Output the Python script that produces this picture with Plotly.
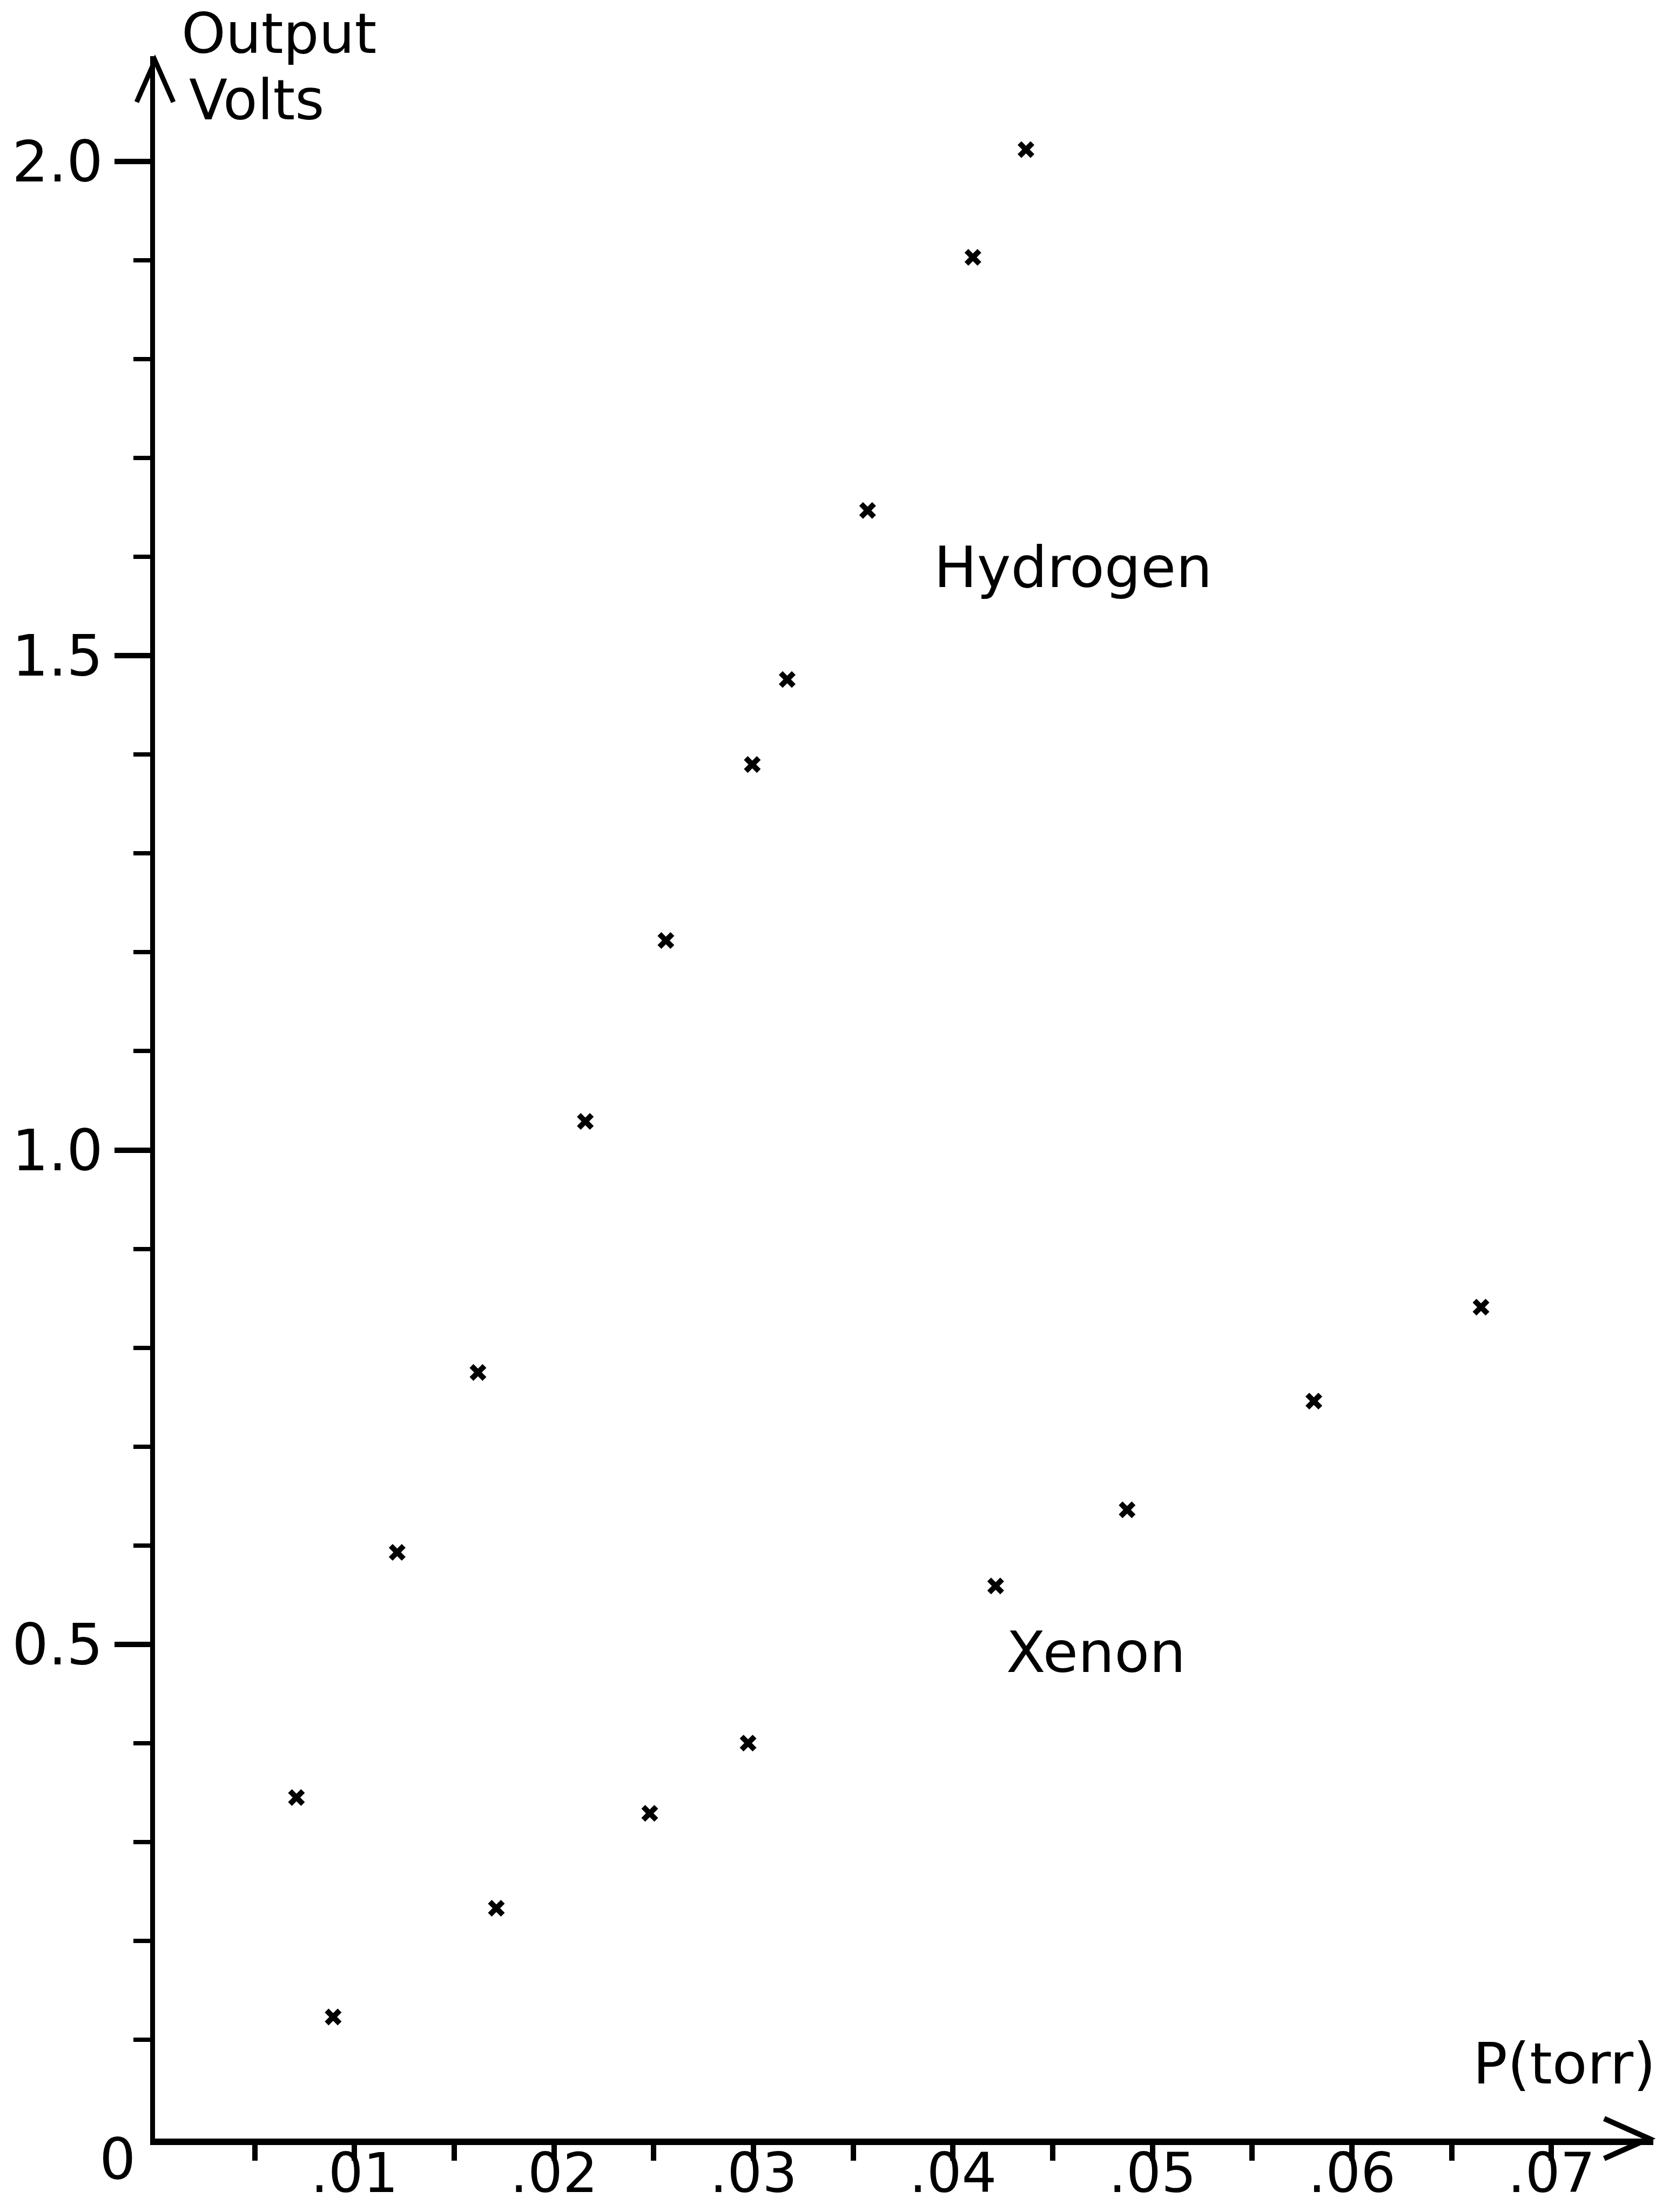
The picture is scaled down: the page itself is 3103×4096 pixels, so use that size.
import plotly.graph_objects as go

# ---------------- data ----------------
hydrogen_pressure = [0.00709, 0.01214, 0.01619, 0.02157, 0.02561, 0.02994, 0.03169, 0.03572, 0.04100, 0.04366]
hydrogen_volts = [0.345, 0.593, 0.775, 1.029, 1.212, 1.390, 1.476, 1.647, 1.903, 2.012]

xenon_pressure = [0.00893, 0.01711, 0.02480, 0.02973, 0.04214, 0.04873, 0.05809, 0.06647]
xenon_volts = [0.123, 0.233, 0.329, 0.400, 0.559, 0.636, 0.746, 0.841]

x_tick_values = [0.01, 0.02, 0.03, 0.04, 0.05, 0.06, 0.07]
x_tick_labels = [".01", ".02", ".03", ".04", ".05", ".06", ".07"]
x_minor_values = [0.005, 0.015, 0.025, 0.035, 0.045, 0.055, 0.065]

y_tick_values = [0.5, 1.0, 1.5, 2.0]
y_tick_labels = ["0.5", "1.0", "1.5", "2.0"]
y_minor_values = [0.1, 0.2, 0.3, 0.4, 0.6, 0.7, 0.8, 0.9,
                  1.1, 1.2, 1.3, 1.4, 1.6, 1.7, 1.8, 1.9]

# ---------------- layout geometry ----------------
W, H = 3103, 4096
L, R, T, B = 287, 42, 104, 136
PX_PER_TORR = 36934.0
PX_PER_VOLT = 1830.5
PW, PH = W - L - R, H - T - B
x_max = PW / PX_PER_TORR
y_max = PH / PX_PER_VOLT

FONT = "DejaVu Sans"
FS = 106
INK = "black"

fig = go.Figure()

marker_style = dict(symbol="x-thin-open", size=24, color=INK, line=dict(width=10, color=INK))

fig.add_trace(go.Scatter(x=hydrogen_pressure, y=hydrogen_volts, mode="markers",
                         name="Hydrogen", marker=marker_style, cliponaxis=False))
fig.add_trace(go.Scatter(x=xenon_pressure, y=xenon_volts, mode="markers",
                         name="Xenon", marker=marker_style, cliponaxis=False))

fig.update_layout(
    width=W, height=H, autosize=False,
    margin=dict(l=L, r=R, t=T, b=B, pad=0, autoexpand=False),
    paper_bgcolor="white", plot_bgcolor="white",
    showlegend=False,
    font=dict(family=FONT, size=FS, color=INK),
)

fig.update_xaxes(
    range=[0, x_max], showgrid=False, zeroline=False, automargin=False,
    showline=True, linecolor=INK, linewidth=12,
    tickmode="array", tickvals=x_tick_values, ticktext=x_tick_labels,
    ticks="outside", ticklen=29, tickwidth=10, tickcolor=INK,
    ticklabelstandoff=-64,
    tickfont=dict(family=FONT, size=102, color=INK),
    minor=dict(tickmode="array", tickvals=x_minor_values, ticks="outside",
               ticklen=29, tickwidth=10, tickcolor=INK, showgrid=False),
    fixedrange=True,
)
fig.update_yaxes(
    range=[0, y_max], showgrid=False, zeroline=False, automargin=False,
    showline=True, linecolor=INK, linewidth=9,
    tickmode="array", tickvals=y_tick_values, ticktext=y_tick_labels,
    ticks="outside", ticklen=66, tickwidth=10, tickcolor=INK,
    ticklabelstandoff=0,
    tickfont=dict(family=FONT, size=FS, color=INK),
    minor=dict(tickmode="array", tickvals=y_minor_values, ticks="outside",
               ticklen=31, tickwidth=8, tickcolor=INK, showgrid=False),
    fixedrange=True,
)

# ---------------- axis arrowheads (open chevrons, paper coordinates) ----------------
xa_back, xa_half, xa_tipgap = 83 / PW, 37 / PH, 8 / PW
fig.add_shape(type="path", xref="paper", yref="paper",
              path=(f"M {1 - xa_tipgap - xa_back},{xa_half} "
                    f"L {1 - xa_tipgap},0 "
                    f"L {1 - xa_tipgap - xa_back},{-xa_half}"),
              line=dict(color=INK, width=10), fillcolor="rgba(0,0,0,0)")
ya_back, ya_half, ya_tipgap = 77 / PH, 34 / PW, 8 / PH
fig.add_shape(type="path", xref="paper", yref="paper",
              path=(f"M {-ya_half},{1 - ya_tipgap - ya_back} "
                    f"L 0,{1 - ya_tipgap} "
                    f"L {ya_half},{1 - ya_tipgap - ya_back}"),
              line=dict(color=INK, width=9), fillcolor="rgba(0,0,0,0)")

# ---------------- text labels ----------------
def label(text, x, y, xref="x", yref="y", xanchor="left", size=FS):
    fig.add_annotation(text=text, x=x, y=y, xref=xref, yref=yref,
                       xanchor=xanchor, yanchor="middle", showarrow=False,
                       font=dict(family=FONT, size=size, color=INK))

label("Output", 0.00127, 1.0109, yref="paper", size=104)
label("Volts", 0.00165, 2.0625, size=104)
label("Hydrogen", 0.03899, 1.5895)
label("Xenon", 0.04262, 0.4919)
label("P(torr)", 0.06601, 0.0757)
label("0", -0.02523, -0.0101, xref="paper", yref="paper", xanchor="center")

fig.write_html("out.html", config={"displayModeBar": False},
               post_script="document.body.style.margin='0';")
